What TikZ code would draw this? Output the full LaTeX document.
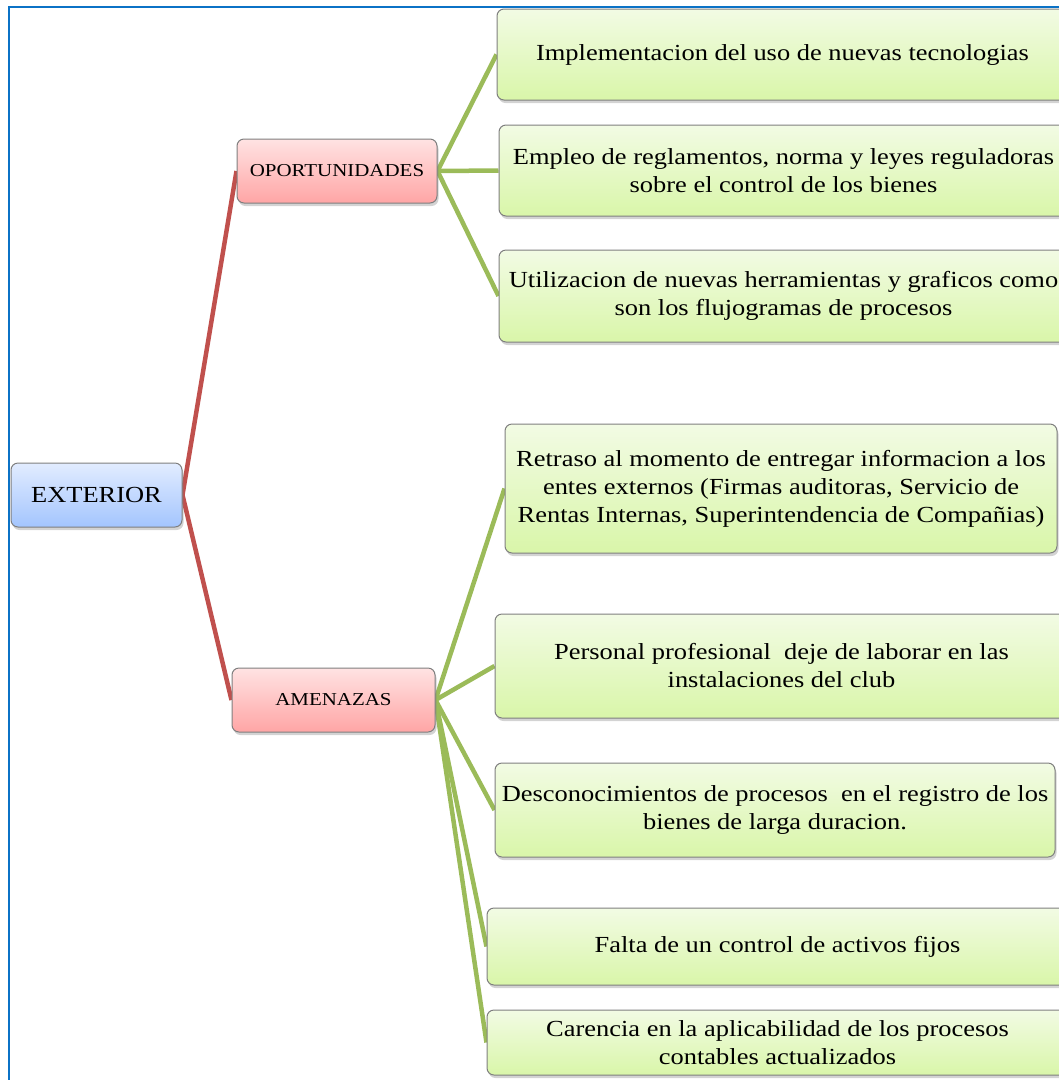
\documentclass[tikz,border=0pt]{standalone}
\usepackage{fontspec}
\setmainfont[FakeStretch=1.15]{Liberation Serif}
\usetikzlibrary{shadows,backgrounds}

\definecolor{framecol}{HTML}{0B72C6}
\definecolor{branchred}{HTML}{C0504D}
\definecolor{leafgreen}{HTML}{9BBB59}
\definecolor{boxline}{HTML}{7F7F7F}
\definecolor{gtop}{HTML}{F2FBE4}
\definecolor{gbot}{HTML}{D9F6A9}
\definecolor{btop}{HTML}{E2ECFF}
\definecolor{bbot}{HTML}{A3C5FE}
\definecolor{rtop}{HTML}{FFE3E3}
\definecolor{rbot}{HTML}{FFA5A5}

\tikzset{
  x=1pt, y=-1pt,
  basebox/.style={draw=boxline, line width=1pt, rounded corners=7pt,
    align=center, inner sep=4pt, text=black,
    drop shadow={opacity=0.35, shadow xshift=1.5pt, shadow yshift=-3pt}},
  rootbox/.style={basebox, top color=btop, bottom color=bbot,
    font=\fontsize{23}{28}\selectfont},
  midbox/.style={basebox, top color=rtop, bottom color=rbot,
    font=\fontsize{18.2}{22}\selectfont},
  leafbox/.style={basebox, top color=gtop, bottom color=gbot,
    font=\fontsize{23}{28}\selectfont},
  redlink/.style={draw=branchred, line width=4.5pt},
  greenlink/.style={draw=leafgreen, line width=4.5pt},
}

\begin{document}
\begin{tikzpicture}
\useasboundingbox (0,0) rectangle (1059,1080);
\clip (0,0) rectangle (1059,1080);

% outer frame
\draw[framecol, line width=2.5pt] (9,1100) -- (9,7) -- (1080,7);

% root
\node[rootbox, minimum width=171pt, minimum height=64pt] (ext) at (96.5,495) {EXTERIOR};

% branches
\node[midbox, minimum width=200pt, minimum height=64pt] (opo) at (337,171) {OPORTUNIDADES};
\node[midbox, minimum width=203pt, minimum height=64pt] (ame) at (333.5,700) {AMENAZAS};

% leaves of OPORTUNIDADES
\node[leafbox, minimum width=571pt, minimum height=91pt] (o1) at (782.5,54.5)
  {Implementacion del uso de nuevas tecnologias};
\node[leafbox, minimum width=569pt, minimum height=91pt] (o2) at (783.5,170.5)
  {Empleo de reglamentos, norma y leyes reguladoras\\sobre el control de los bienes};
\node[leafbox, minimum width=569pt, minimum height=92pt] (o3) at (783.5,296)
  {Utilizacion de nuevas herramientas y graficos como\\son los flujogramas de procesos};

% leaves of AMENAZAS
\node[leafbox, minimum width=552pt, minimum height=129pt] (a1) at (781,488.5)
  {Retraso al momento de entregar informacion a los\\entes externos (Firmas auditoras, Servicio de\\Rentas Internas, Superintendencia de Compañias)};
\node[leafbox, minimum width=573pt, minimum height=104pt] (a2) at (781.5,666)
  {Personal profesional~ deje de laborar en las\\instalaciones del club};
\node[leafbox, minimum width=560pt, minimum height=94pt] (a3) at (775,810)
  {Desconocimientos de procesos~ en el registro de los\\bienes de larga duracion.};
\node[leafbox, minimum width=581pt, minimum height=77pt] (a4) at (777.5,946.5)
  {Falta de un control de activos fijos};
\node[leafbox, minimum width=581pt, minimum height=65pt] (a5) at (777.5,1042.5)
  {Carencia en la aplicabilidad de los procesos\\contables actualizados};

% connectors
\begin{pgfonlayer}{background}
  \draw[redlink] (ext.east) -- (opo.west);
  \draw[redlink] (ext.east) -- (ame.west);
  \foreach \t in {o1,o2,o3} \draw[greenlink] (opo.east) -- (\t.west);
  \foreach \t in {a1,a2,a3,a4,a5} \draw[greenlink] (ame.east) -- (\t.west);
\end{pgfonlayer}
\end{tikzpicture}
\end{document}
